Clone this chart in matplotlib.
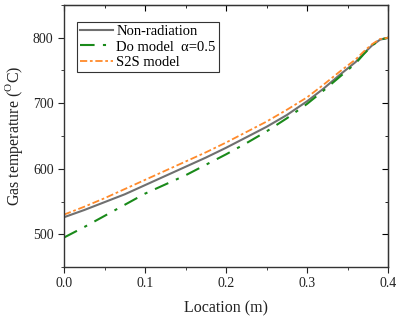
import numpy as np
import matplotlib.pyplot as plt
from matplotlib.ticker import MultipleLocator

plt.rcParams['font.family'] = ['Liberation Serif', 'DejaVu Serif']
plt.rcParams['mathtext.fontset'] = 'custom'
plt.rcParams['mathtext.rm'] = 'Liberation Serif'

# Location (m)
x = [0.0, 0.025, 0.05, 0.075, 0.1, 0.125, 0.15, 0.175, 0.2, 0.225, 0.25,
     0.275, 0.3, 0.32, 0.34, 0.36, 0.37, 0.38, 0.39, 0.4]
# gas temperature (C)
t_nonrad = [526, 537, 549, 561, 575, 589, 603, 617, 632, 648, 664,
            682, 703, 722, 743, 763, 776, 788, 797, 800]
t_do = [495, 511, 528, 545, 562, 576, 590, 606, 622, 639, 657,
        677, 699, 719, 740, 761, 775, 788, 797, 800]
t_s2s = [530, 542, 555, 569, 583, 597, 611, 625, 640, 656, 672,
         690, 709, 728, 748, 767, 779, 790, 798, 800]

fig = plt.figure(figsize=(3.96, 3.20), dpi=100)
ax = fig.add_axes([0.1616, 0.1656, 0.8184, 0.8188])

ax.plot(x, t_nonrad, color='#707070', lw=1.5, label='Non-radiation')
ax.plot(x, t_do, color='#1a8a1a', lw=1.5, dashes=(7, 4, 1.5, 4),
        label='Do model  α=0.5')
ax.plot(x, t_s2s, color='#ff8a2a', lw=1.3, dashes=(4, 1.5, 1.5, 1.5),
        label='S2S model')

ax.set_xlim(0, 0.4)
ax.set_ylim(450, 850)
ax.xaxis.set_major_locator(MultipleLocator(0.1))
ax.xaxis.set_minor_locator(MultipleLocator(0.05))
ax.yaxis.set_major_locator(MultipleLocator(100))
ax.yaxis.set_minor_locator(MultipleLocator(50))
ax.xaxis.set_major_formatter(lambda v, p: '%.1f' % v)
ax.tick_params(which='both', direction='out', labelsize=10, colors='#222222')
ax.tick_params(which='major', length=4)
ax.tick_params(which='minor', length=2.5)

# inward mirrored ticks on top / right
sec = ax.secondary_xaxis('top')
sec.xaxis.set_major_locator(MultipleLocator(0.1))
sec.xaxis.set_minor_locator(MultipleLocator(0.05))
sec.tick_params(which='both', direction='in', labeltop=False)
sec.tick_params(which='major', length=4)
sec.tick_params(which='minor', length=2.5)
sec2 = ax.secondary_yaxis('right')
sec2.yaxis.set_major_locator(MultipleLocator(100))
sec2.yaxis.set_minor_locator(MultipleLocator(50))
sec2.tick_params(which='both', direction='in', labelright=False)
sec2.tick_params(which='major', length=4)
sec2.tick_params(which='minor', length=2.5)

for s in ax.spines.values():
    s.set_color('#333333')
    s.set_linewidth(1.0)

ax.set_xlabel('Location (m)', fontsize=11.5, color='#222222', labelpad=7)
ax.set_ylabel(r'Gas temperature ($^{\mathrm{O}}$C)', fontsize=11.5,
              color='#222222', labelpad=6)

leg = ax.legend(loc='upper left', bbox_to_anchor=(0.04, 0.935), borderaxespad=0,
                fancybox=False, edgecolor='#333333', fontsize=10.5,
                handlelength=2.3, handletextpad=0.2, labelspacing=0.15,
                borderpad=0.2, framealpha=1)
leg.get_frame().set_linewidth(0.8)

fig.savefig('out.png', dpi=100)
